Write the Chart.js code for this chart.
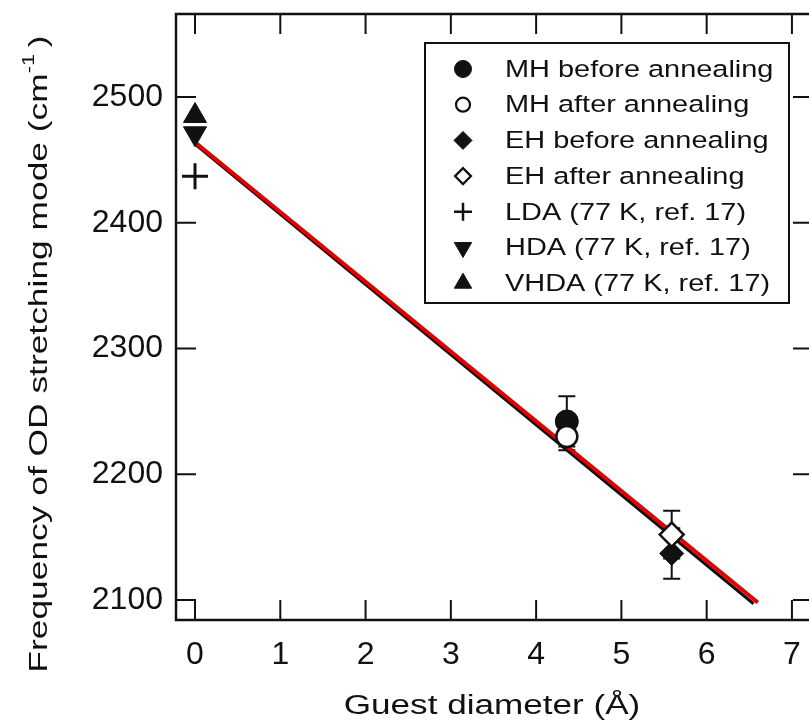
<!DOCTYPE html>
<html>
<head>
<meta charset="utf-8">
<title>OD stretching mode vs guest diameter</title>
<script src="https://cdn.jsdelivr.net/npm/chart.js@4/dist/chart.umd.min.js"></script>
<style>
    html, body { margin: 0; padding: 0; background: #fff; overflow: hidden; }
    canvas { display: block; }
</style>
</head>
<body>
<canvas id="odChart" width="809" height="728"></canvas>
<script>
// ======================================================
// Data
// ======================================================

const mhBeforeX = [4.36];
const mhBeforeY = [2242];
const mhBeforeErr = [20];

const mhAfterX = [4.36];
const mhAfterY = [2230];
const mhAfterErr = [11];

const ehBeforeX = [5.59];
const ehBeforeY = [2137];
const ehBeforeErr = [20];

const ehAfterX = [5.59];
const ehAfterY = [2152];
const ehAfterErr = [19];

const ldaX = [0];
const ldaY = [2437];

const hdaX = [0];
const hdaY = [2471];

const vhdaX = [0];
const vhdaY = [2485];

// linear fits
const fitBlackX = [0, 6.55];
const fitBlackY = [2462.5, 2097];
const fitRedX = [0, 6.6];
const fitRedY = [2464, 2098];

const xTicks = [0, 1, 2, 3, 4, 5, 6, 7];
const yTicks = [2100, 2200, 2300, 2400, 2500];

const xTitle = "Guest diameter (\u00C5)";
const yTitle = "Frequency of OD stretching mode (cm";

const INK = "#111";
const FONT = "'Liberation Sans', Arial, sans-serif";

function toPoints(xs, ys) {
    return xs.map((x, i) => ({ x: x, y: ys[i] }));
}

// ======================================================
// Frame with inward ticks on all four sides
// ======================================================

const framePlugin = {
    id: "frame",
    beforeDatasetsDraw(chart) {
        const ctx = chart.ctx;
        const a = chart.chartArea;
        const xs = chart.scales.x;
        const ys = chart.scales.y;
        const rightEdge = a.right + 4;
        const len = 20;

        ctx.save();
        ctx.strokeStyle = INK;
        ctx.lineWidth = 2.5;
        ctx.beginPath();
        ctx.moveTo(rightEdge, a.top);
        ctx.lineTo(a.left, a.top);
        ctx.lineTo(a.left, a.bottom);
        ctx.lineTo(rightEdge, a.bottom);
        ctx.stroke();

        ctx.lineWidth = 2;
        ctx.beginPath();
        xTicks.forEach(v => {
            const px = xs.getPixelForValue(v);
            ctx.moveTo(px, a.bottom);
            ctx.lineTo(px, a.bottom - len);
            ctx.moveTo(px, a.top);
            ctx.lineTo(px, a.top + len);
        });
        yTicks.forEach(v => {
            const py = ys.getPixelForValue(v);
            ctx.moveTo(a.left, py);
            ctx.lineTo(a.left + len, py);
            ctx.moveTo(rightEdge, py);
            ctx.lineTo(rightEdge - len, py);
        });
        ctx.stroke();
        ctx.restore();
    }
};

// ======================================================
// Error bars (drawn under the markers)
// ======================================================

const errorBarPlugin = {
    id: "errorBars",
    beforeDatasetsDraw(chart) {
        const ctx = chart.ctx;
        const xs = chart.scales.x;
        const ys = chart.scales.y;

        ctx.save();
        ctx.strokeStyle = INK;
        ctx.lineWidth = 2;

        chart.data.datasets.forEach(ds => {
            if (!ds.yErr) return;
            ds.data.forEach((p, i) => {
                const px = xs.getPixelForValue(p.x);
                const top = ys.getPixelForValue(p.y + ds.yErr[i]);
                const bot = ys.getPixelForValue(p.y - ds.yErr[i]);
                ctx.beginPath();
                ctx.moveTo(px, top);
                ctx.lineTo(px, bot);
                ctx.moveTo(px - 8.5, top);
                ctx.lineTo(px + 8.5, top);
                ctx.moveTo(px - 8.5, bot);
                ctx.lineTo(px + 8.5, bot);
                ctx.stroke();
            });
        });
        ctx.restore();
    }
};

// ======================================================
// Axis titles and legend box
// ======================================================

function stretchedText(ctx, text, x, y, sx) {
    ctx.save();
    ctx.translate(x, y);
    ctx.scale(sx, 1);
    ctx.fillText(text, 0, 0);
    ctx.restore();
}

const labelPlugin = {
    id: "labels",
    afterDraw(chart) {
        const ctx = chart.ctx;
        ctx.save();
        ctx.fillStyle = INK;
        ctx.textBaseline = "alphabetic";

        // x title
        ctx.font = "27px " + FONT;
        const xStretch = 1.3;
        const xw = ctx.measureText(xTitle).width * xStretch;
        stretchedText(ctx, xTitle, 492 - xw / 2, 714, xStretch);

        // y title, rotated, with superscript
        const yStretch = 1.36;
        ctx.save();
        ctx.translate(47, 354);
        ctx.rotate(-Math.PI / 2);
        ctx.scale(yStretch, 1);
        ctx.font = "26px " + FONT;
        const mainW = ctx.measureText(yTitle).width;
        const closeW = ctx.measureText(")").width;
        ctx.font = "16px " + FONT;
        const supW = ctx.measureText("-1").width;
        const gap = 5;
        const total = mainW + supW + gap + closeW;
        let cx = -total / 2;
        ctx.font = "26px " + FONT;
        ctx.fillText(yTitle, cx, 0);
        cx += mainW;
        ctx.font = "16px " + FONT;
        ctx.fillText("-1", cx, -13);
        cx += supW + gap;
        ctx.font = "26px " + FONT;
        ctx.fillText(")", cx, 0);
        ctx.restore();

        // legend
        ctx.strokeStyle = INK;
        ctx.lineWidth = 2;
        ctx.strokeRect(425, 43, 364, 260);

        const rowY0 = 69;
        const rowStep = 35.7;
        ctx.font = "24.5px " + FONT;
        ctx.textBaseline = "middle";

        chart.data.datasets.forEach(ds => {
            if (ds.legendRow === undefined) return;
            const y = rowY0 + ds.legendRow * rowStep;
            ctx.save();
            ctx.fillStyle = ds.backgroundColor;
            ctx.strokeStyle = ds.borderColor;
            ctx.lineWidth = ds.legendBorder;
            Chart.helpers.drawPoint(ctx, {
                pointStyle: ds.pointStyle,
                rotation: ds.pointRotation || 0,
                radius: ds.legendRadius,
                borderWidth: ds.legendBorder
            }, 463, y);
            ctx.restore();
            ctx.fillStyle = INK;
            stretchedText(ctx, ds.label, 505, y + 1, 1.18);
        });

        ctx.restore();
    }
};

// ======================================================
// Chart
// ======================================================

document.addEventListener("DOMContentLoaded", function () {

    const ctx = document.getElementById("odChart");

    new Chart(ctx, {
        type: "scatter",
        data: {
            datasets: [
                {
                    label: "MH after annealing",
                    data: toPoints(mhAfterX, mhAfterY),
                    yErr: mhAfterErr,
                    pointStyle: "circle",
                    pointRadius: 10.5,
                    backgroundColor: "#fff",
                    borderColor: INK,
                    borderWidth: 2.5,
                    legendRow: 1, legendRadius: 7, legendBorder: 2.2,
                    order: 1
                },
                {
                    label: "MH before annealing",
                    data: toPoints(mhBeforeX, mhBeforeY),
                    yErr: mhBeforeErr,
                    pointStyle: "circle",
                    pointRadius: 11.5,
                    backgroundColor: INK,
                    borderColor: INK,
                    borderWidth: 1,
                    legendRow: 0, legendRadius: 8.5, legendBorder: 1,
                    order: 2
                },
                {
                    label: "EH after annealing",
                    data: toPoints(ehAfterX, ehAfterY),
                    yErr: ehAfterErr,
                    pointStyle: "rectRot",
                    pointRadius: 12,
                    backgroundColor: "#fff",
                    borderColor: INK,
                    borderWidth: 2.5,
                    legendRow: 3, legendRadius: 8, legendBorder: 2.2,
                    order: 1
                },
                {
                    label: "EH before annealing",
                    data: toPoints(ehBeforeX, ehBeforeY),
                    yErr: ehBeforeErr,
                    pointStyle: "rectRot",
                    pointRadius: 12,
                    backgroundColor: INK,
                    borderColor: INK,
                    borderWidth: 1,
                    legendRow: 2, legendRadius: 9, legendBorder: 1,
                    order: 2
                },
                {
                    label: "LDA (77 K, ref. 17)",
                    data: toPoints(ldaX, ldaY),
                    pointStyle: "cross",
                    pointRadius: 13,
                    backgroundColor: INK,
                    borderColor: INK,
                    borderWidth: 3,
                    legendRow: 4, legendRadius: 9, legendBorder: 2.5,
                    order: 3
                },
                {
                    label: "HDA (77 K, ref. 17)",
                    data: toPoints(hdaX, hdaY),
                    pointStyle: "triangle",
                    pointRotation: 180,
                    pointRadius: 13.3,
                    backgroundColor: INK,
                    borderColor: INK,
                    borderWidth: 1,
                    legendRow: 5, legendRadius: 10, legendBorder: 1,
                    order: 3
                },
                {
                    label: "VHDA (77 K, ref. 17)",
                    data: toPoints(vhdaX, vhdaY),
                    pointStyle: "triangle",
                    pointRadius: 13.3,
                    backgroundColor: INK,
                    borderColor: INK,
                    borderWidth: 1,
                    legendRow: 6, legendRadius: 10, legendBorder: 1,
                    order: 3
                },
                {
                    label: "fit",
                    data: toPoints(fitRedX, fitRedY),
                    showLine: true,
                    pointRadius: 0,
                    borderColor: "rgb(228,0,0)",
                    borderWidth: 4,
                    order: 5
                },
                {
                    label: "fit (black)",
                    data: toPoints(fitBlackX, fitBlackY),
                    showLine: true,
                    pointRadius: 0,
                    borderColor: INK,
                    borderWidth: 3,
                    order: 6
                }
            ]
        },
        options: {
            responsive: false,
            animation: false,
            devicePixelRatio: 1,
            layout: {
                autoPadding: false,
                padding: { top: 14, right: 0, bottom: 0, left: 0 }
            },
            plugins: {
                legend: { display: false },
                tooltip: { enabled: false }
            },
            scales: {
                x: {
                    type: "linear",
                    min: -0.223,
                    max: 7.2,
                    grid: { display: false, drawTicks: false },
                    border: { display: false },
                    afterBuildTicks: s => { s.ticks = xTicks.map(v => ({ value: v })); },
                    afterFit: s => {
                        s.height = 108;
                        s.paddingLeft = 0;
                        s.paddingRight = 0;
                    },
                    ticks: {
                        color: INK,
                        padding: 16,
                        font: { family: FONT, size: 32 }
                    }
                },
                y: {
                    type: "linear",
                    min: 2084.1,
                    max: 2566,
                    grid: { display: false, drawTicks: false },
                    border: { display: false },
                    afterBuildTicks: s => { s.ticks = yTicks.map(v => ({ value: v })); },
                    afterFit: s => {
                        s.width = 176;
                        s.paddingTop = 0;
                        s.paddingBottom = 0;
                    },
                    ticks: {
                        color: INK,
                        padding: 13,
                        callback: v => String(v),
                        font: { family: FONT, size: 32 }
                    }
                }
            }
        },
        plugins: [framePlugin, errorBarPlugin, labelPlugin]
    });

});
</script>
</body>
</html>
